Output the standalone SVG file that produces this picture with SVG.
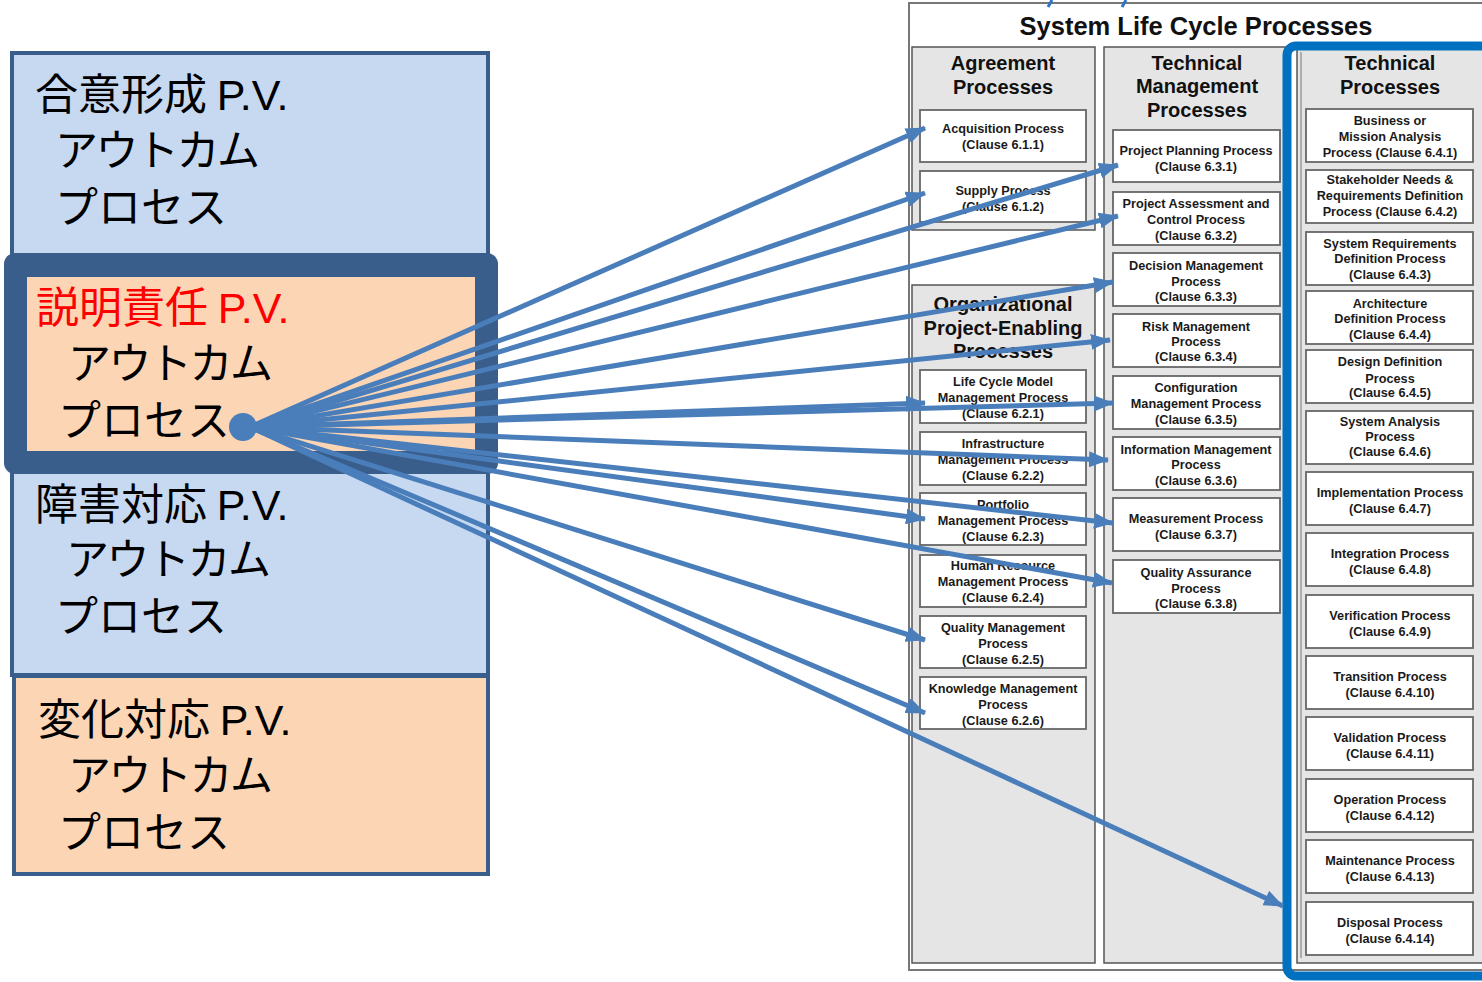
<svg xmlns="http://www.w3.org/2000/svg" width="1482" height="982" viewBox="0 0 1482 982">
<defs>
<marker id="ah" markerUnits="userSpaceOnUse" markerWidth="20" markerHeight="16" refX="19" refY="8" orient="auto">
<path d="M0,0 L20,8 L0,16 z" fill="#4a7ebb"/>
</marker>
<style>
.jp{font-family:"Noto Sans CJK JP","Noto Sans CJK SC",sans-serif;font-size:43px;fill:#000}
.ka{letter-spacing:-2.5px}
.pv{font-family:"Liberation Sans","Noto Sans",sans-serif}
.blue{fill:#c6d9f1;stroke:#3a5e8b;stroke-width:4}
.peach{fill:#fcd5b5;stroke:#3a5e8b;stroke-width:4}
.col{fill:#e5e5e5;stroke:#555;stroke-width:1.5}
.bx{fill:#fff;stroke:#666;stroke-width:1.8}
.bt{font-family:"Liberation Sans",Arial,sans-serif;font-weight:bold;font-size:12.7px;fill:#1a1a1a;text-anchor:middle}
.hd{font-family:"Liberation Sans",Arial,sans-serif;font-weight:bold;font-size:20px;fill:#111;text-anchor:middle}
.cn line{stroke:#4a7ebb;stroke-width:5;marker-end:url(#ah)}
</style>
</defs>
<rect width="1482" height="982" fill="#fff"/>

<!-- Right diagram -->
<g id="slcp">
<rect x="909" y="3" width="600" height="967" fill="#fff" stroke="#777" stroke-width="2"/>
<text x="1196" y="35" class="hd" style="font-size:25.5px">System Life Cycle Processes</text>
</g>
<g id="agreement">
<rect class="col" x="912" y="47" width="183" height="183"/>
<text class="hd" x="1003" y="70">Agreement</text>
<text class="hd" x="1003" y="94">Processes</text>
<rect class="bx" x="920" y="110" width="166" height="52"/>
<text class="bt" x="1003" y="133">Acquisition Process</text>
<text class="bt" x="1003" y="149">(Clause 6.1.1)</text>
<rect class="bx" x="920" y="171" width="166" height="51"/>
<text class="bt" x="1003" y="195">Supply Process</text>
<text class="bt" x="1003" y="211">(Clause 6.1.2)</text>
</g>
<g id="org">
<rect class="col" x="912" y="285" width="183" height="678"/>
<text class="hd" x="1003" y="311">Organizational</text>
<text class="hd" x="1003" y="335">Project-Enabling</text>
<text class="hd" x="1003" y="358">Processes</text>
<rect class="bx" x="920" y="370" width="166" height="53"/>
<text class="bt" x="1003" y="386">Life Cycle Model</text>
<text class="bt" x="1003" y="402">Management Process</text>
<text class="bt" x="1003" y="418">(Clause 6.2.1)</text>
<rect class="bx" x="920" y="432" width="166" height="53"/>
<text class="bt" x="1003" y="448">Infrastructure</text>
<text class="bt" x="1003" y="464">Management Process</text>
<text class="bt" x="1003" y="480">(Clause 6.2.2)</text>
<rect class="bx" x="920" y="493" width="166" height="52"/>
<text class="bt" x="1003" y="509">Portfolio</text>
<text class="bt" x="1003" y="525">Management Process</text>
<text class="bt" x="1003" y="541">(Clause 6.2.3)</text>
<rect class="bx" x="920" y="555" width="166" height="52"/>
<text class="bt" x="1003" y="570">Human Resource</text>
<text class="bt" x="1003" y="586">Management Process</text>
<text class="bt" x="1003" y="602">(Clause 6.2.4)</text>
<rect class="bx" x="920" y="616" width="166" height="52"/>
<text class="bt" x="1003" y="632">Quality Management</text>
<text class="bt" x="1003" y="648">Process</text>
<text class="bt" x="1003" y="664">(Clause 6.2.5)</text>
<rect class="bx" x="920" y="677" width="166" height="52"/>
<text class="bt" x="1003" y="693">Knowledge Management</text>
<text class="bt" x="1003" y="709">Process</text>
<text class="bt" x="1003" y="725">(Clause 6.2.6)</text>
</g>
<g id="techmgmt">
<rect class="col" x="1104" y="47" width="183" height="916"/>
<text class="hd" x="1197" y="70">Technical</text>
<text class="hd" x="1197" y="93">Management</text>
<text class="hd" x="1197" y="117">Processes</text>
<rect class="bx" x="1113" y="130" width="167" height="52"/>
<text class="bt" x="1196" y="155">Project Planning Process</text>
<text class="bt" x="1196" y="171">(Clause 6.3.1)</text>
<rect class="bx" x="1113" y="192" width="167" height="53"/>
<text class="bt" x="1196" y="208">Project Assessment and</text>
<text class="bt" x="1196" y="224">Control Process</text>
<text class="bt" x="1196" y="240">(Clause 6.3.2)</text>
<rect class="bx" x="1113" y="253" width="167" height="53"/>
<text class="bt" x="1196" y="270">Decision Management</text>
<text class="bt" x="1196" y="286">Process</text>
<text class="bt" x="1196" y="301">(Clause 6.3.3)</text>
<rect class="bx" x="1113" y="314" width="167" height="53"/>
<text class="bt" x="1196" y="331">Risk Management</text>
<text class="bt" x="1196" y="346">Process</text>
<text class="bt" x="1196" y="361">(Clause 6.3.4)</text>
<rect class="bx" x="1113" y="376" width="167" height="53"/>
<text class="bt" x="1196" y="392">Configuration</text>
<text class="bt" x="1196" y="408">Management Process</text>
<text class="bt" x="1196" y="424">(Clause 6.3.5)</text>
<rect class="bx" x="1113" y="437" width="167" height="53"/>
<text class="bt" x="1196" y="454">Information Management</text>
<text class="bt" x="1196" y="469">Process</text>
<text class="bt" x="1196" y="485">(Clause 6.3.6)</text>
<rect class="bx" x="1113" y="498" width="167" height="53"/>
<text class="bt" x="1196" y="523">Measurement Process</text>
<text class="bt" x="1196" y="539">(Clause 6.3.7)</text>
<rect class="bx" x="1113" y="560" width="167" height="53"/>
<text class="bt" x="1196" y="577">Quality Assurance</text>
<text class="bt" x="1196" y="593">Process</text>
<text class="bt" x="1196" y="608">(Clause 6.3.8)</text>
</g>
<g id="technical">
<rect class="col" x="1297" y="47" width="190" height="916"/>
<line x1="1301" y1="52" x2="1301" y2="958" stroke="#777" stroke-width="1"/>
<text class="hd" x="1390" y="70">Technical</text>
<text class="hd" x="1390" y="94">Processes</text>
<rect class="bx" x="1306" y="109" width="167" height="53"/>
<text class="bt" x="1390" y="125">Business or</text>
<text class="bt" x="1390" y="141">Mission Analysis</text>
<text class="bt" x="1390" y="157">Process (Clause 6.4.1)</text>
<rect class="bx" x="1306" y="170" width="167" height="53"/>
<text class="bt" x="1390" y="184">Stakeholder Needs &amp;</text>
<text class="bt" x="1390" y="200">Requirements Definition</text>
<text class="bt" x="1390" y="216">Process (Clause 6.4.2)</text>
<rect class="bx" x="1306" y="232" width="167" height="53"/>
<text class="bt" x="1390" y="248">System Requirements</text>
<text class="bt" x="1390" y="263">Definition Process</text>
<text class="bt" x="1390" y="279">(Clause 6.4.3)</text>
<rect class="bx" x="1306" y="291" width="167" height="53"/>
<text class="bt" x="1390" y="308">Architecture</text>
<text class="bt" x="1390" y="323">Definition Process</text>
<text class="bt" x="1390" y="339">(Clause 6.4.4)</text>
<rect class="bx" x="1306" y="350" width="167" height="53"/>
<text class="bt" x="1390" y="366">Design Definition</text>
<text class="bt" x="1390" y="383">Process</text>
<text class="bt" x="1390" y="397">(Clause 6.4.5)</text>
<rect class="bx" x="1306" y="411" width="167" height="53"/>
<text class="bt" x="1390" y="426">System Analysis</text>
<text class="bt" x="1390" y="441">Process</text>
<text class="bt" x="1390" y="456">(Clause 6.4.6)</text>
<rect class="bx" x="1306" y="472" width="167" height="53"/>
<text class="bt" x="1390" y="497">Implementation Process</text>
<text class="bt" x="1390" y="513">(Clause 6.4.7)</text>
<rect class="bx" x="1306" y="533" width="167" height="53"/>
<text class="bt" x="1390" y="558">Integration Process</text>
<text class="bt" x="1390" y="574">(Clause 6.4.8)</text>
<rect class="bx" x="1306" y="595" width="167" height="53"/>
<text class="bt" x="1390" y="620">Verification Process</text>
<text class="bt" x="1390" y="636">(Clause 6.4.9)</text>
<rect class="bx" x="1306" y="656" width="167" height="53"/>
<text class="bt" x="1390" y="681">Transition Process</text>
<text class="bt" x="1390" y="697">(Clause 6.4.10)</text>
<rect class="bx" x="1306" y="717" width="167" height="53"/>
<text class="bt" x="1390" y="742">Validation Process</text>
<text class="bt" x="1390" y="758">(Clause 6.4.11)</text>
<rect class="bx" x="1306" y="779" width="167" height="53"/>
<text class="bt" x="1390" y="804">Operation Process</text>
<text class="bt" x="1390" y="820">(Clause 6.4.12)</text>
<rect class="bx" x="1306" y="840" width="167" height="53"/>
<text class="bt" x="1390" y="865">Maintenance Process</text>
<text class="bt" x="1390" y="881">(Clause 6.4.13)</text>
<rect class="bx" x="1306" y="902" width="167" height="53"/>
<text class="bt" x="1390" y="927">Disposal Process</text>
<text class="bt" x="1390" y="943">(Clause 6.4.14)</text>
</g>
<g id="highlight">
<rect x="1287" y="46" width="230" height="930" rx="9" fill="none" stroke="#0070c0" stroke-width="9"/>
</g>
<g id="topmarks" stroke="#2e75c9" stroke-width="3">
<line x1="1052" y1="0" x2="1048" y2="7"/>
<line x1="1126" y1="0" x2="1122" y2="7"/>
</g>

<!-- Left boxes -->
<g id="goui">
<rect class="blue" x="12" y="53" width="476" height="210"/>
<text class="jp" x="35" y="110">合意形成 <tspan class="pv">P.V.</tspan></text>
<text class="jp ka" x="55" y="166">アウトカム</text>
<text class="jp" x="55" y="223">プロセス</text>
</g>
<g id="shogai">
<rect class="blue" x="12" y="466" width="476" height="209"/>
<text class="jp" x="35" y="520">障害対応 <tspan class="pv">P.V.</tspan></text>
<text class="jp ka" x="66" y="575">アウトカム</text>
<text class="jp" x="55" y="632">プロセス</text>
</g>
<g id="henka">
<rect class="peach" x="14" y="676" width="474" height="198"/>
<text class="jp" x="38" y="735">変化対応 <tspan class="pv">P.V.</tspan></text>
<text class="jp ka" x="68" y="791">アウトカム</text>
<text class="jp" x="58" y="848">プロセス</text>
</g>
<g id="setsumei">
<rect x="4" y="253" width="494" height="221" rx="11" fill="#3a5e8b"/>
<rect x="27" y="277" width="448" height="174" fill="#fcd5b5"/>
<text class="jp" x="36" y="323" style="fill:#ff0000">説明責任 <tspan class="pv">P.V.</tspan></text>
<text class="jp ka" x="68" y="379">アウトカム</text>
<text class="jp" x="58" y="436">プロセス</text>
</g>

<!-- Connectors -->
<g id="connectors" class="cn">
<line x1="250" y1="427" x2="925" y2="128"/>
<line x1="250" y1="427" x2="925" y2="193"/>
<line x1="250" y1="427" x2="1118" y2="165"/>
<line x1="250" y1="427" x2="1118" y2="216"/>
<line x1="250" y1="427" x2="1113" y2="282"/>
<line x1="250" y1="427" x2="1110" y2="340"/>
<line x1="250" y1="427" x2="925" y2="403"/>
<line x1="250" y1="427" x2="1113" y2="403"/>
<line x1="250" y1="427" x2="1108" y2="460"/>
<line x1="250" y1="427" x2="925" y2="519"/>
<line x1="250" y1="427" x2="1113" y2="523"/>
<line x1="250" y1="427" x2="1112" y2="583"/>
<line x1="250" y1="427" x2="925" y2="640"/>
<line x1="250" y1="427" x2="925" y2="713"/>
<line x1="250" y1="427" x2="1283" y2="906"/>
<circle cx="243" cy="427" r="14" fill="#4a7ebb" stroke="none"/>
</g>
</svg>
